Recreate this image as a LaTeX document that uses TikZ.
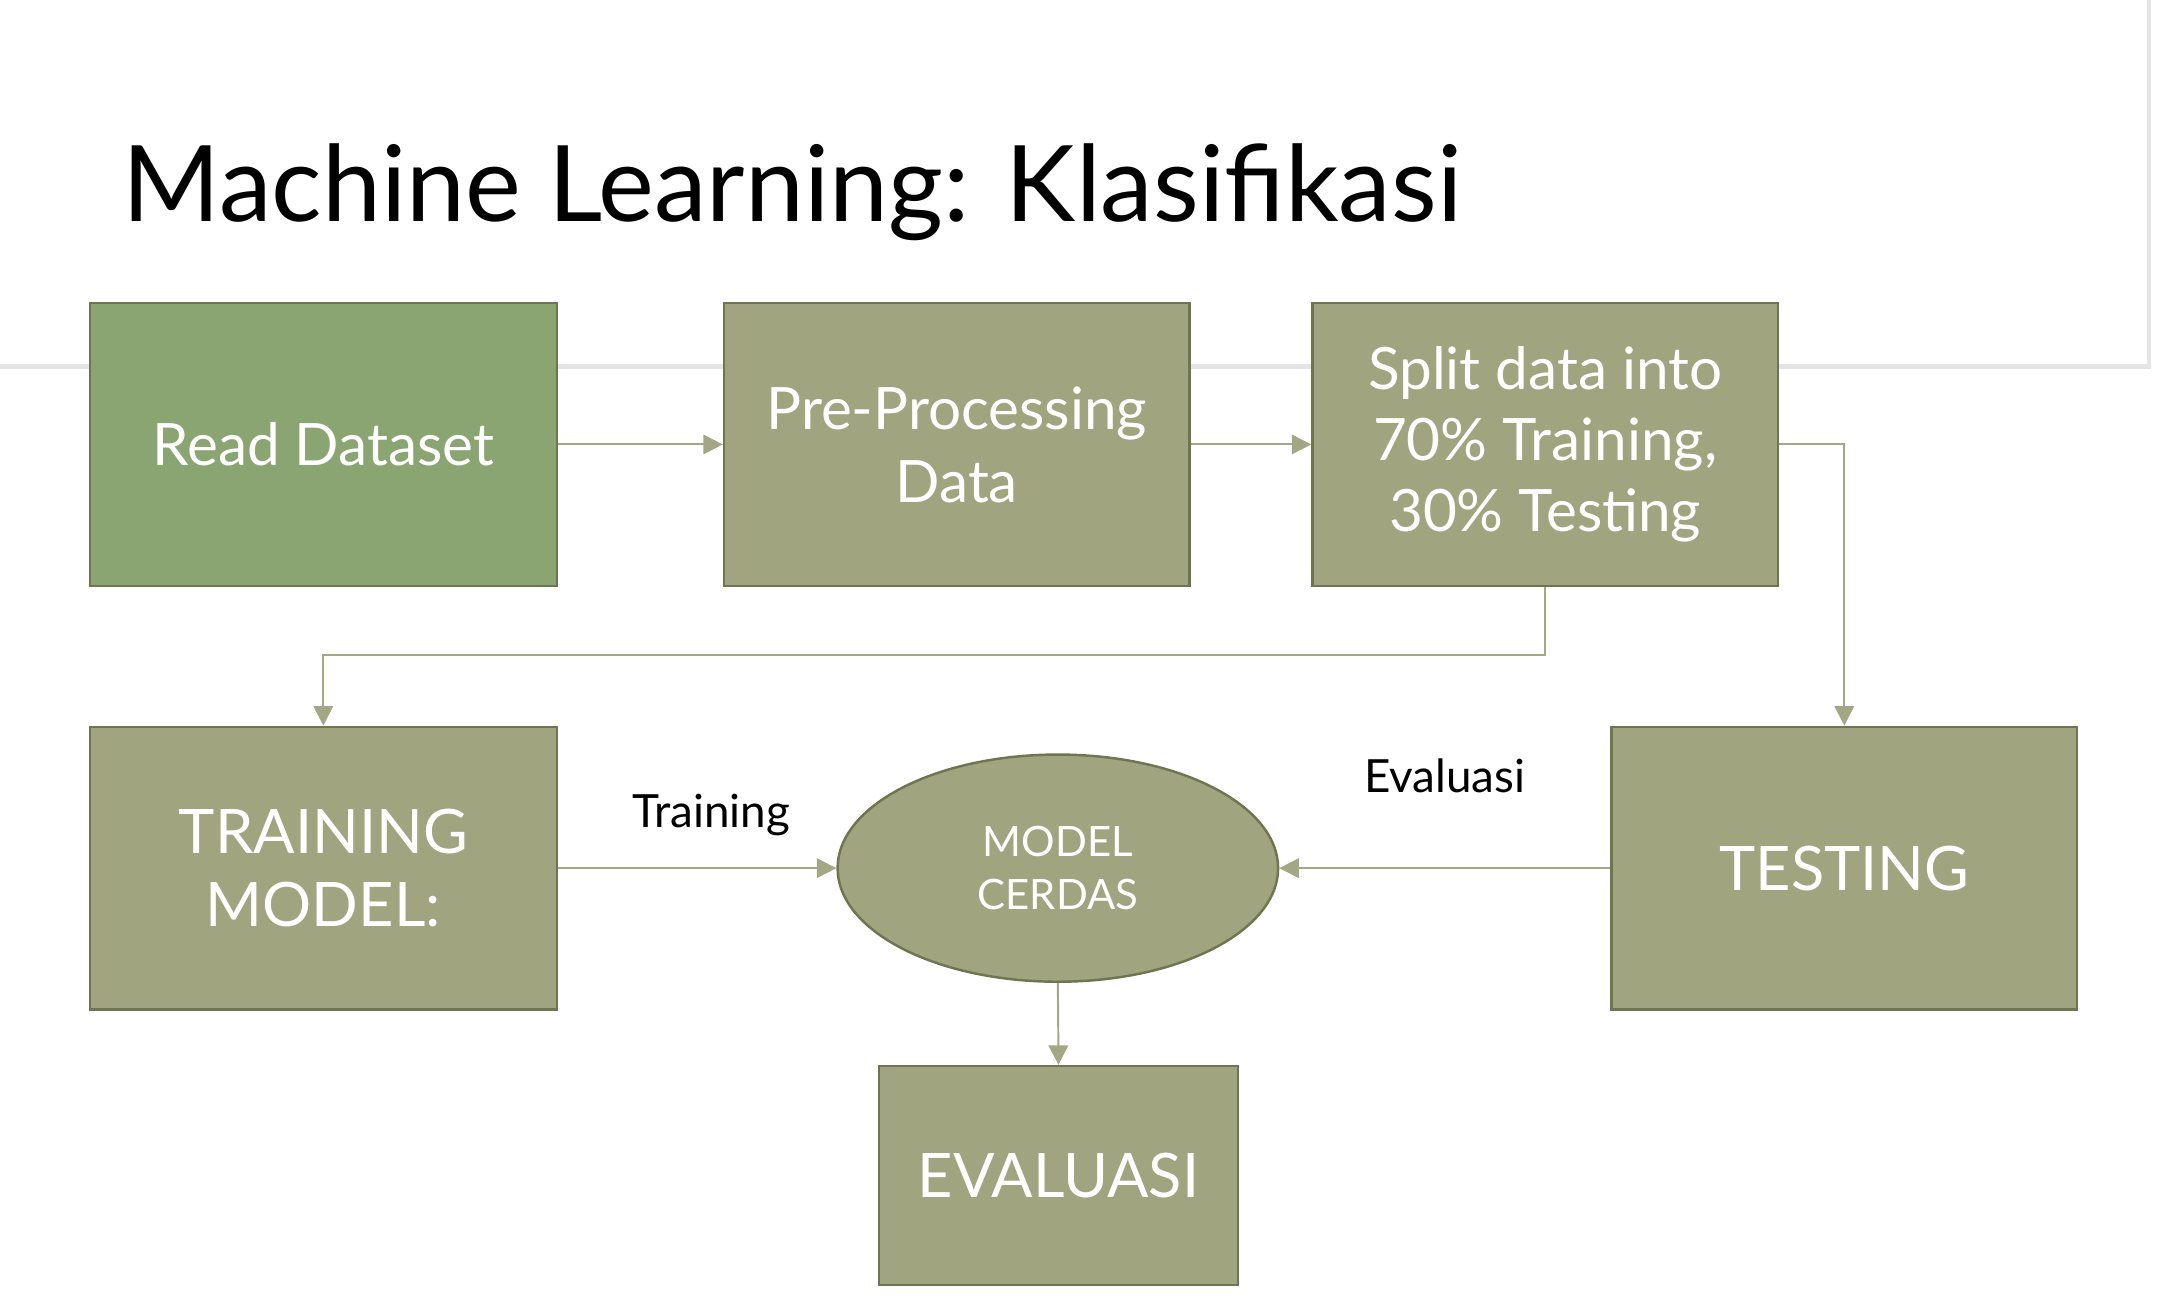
\documentclass[tikz,border=0pt]{standalone}
\usepackage{fontspec}
\setmainfont{Lato}
\usetikzlibrary{arrows.meta,shapes.geometric}
\definecolor{boxf}{HTML}{A0A47F}
\definecolor{boxg}{HTML}{8BA572}
\definecolor{boxd}{HTML}{6E7550}
\definecolor{lin}{HTML}{A3A784}
\tikzset{
 blk/.style={draw=boxd,line width=0.5pt,fill=boxf,text=white,align=center,inner sep=0pt},
 conn/.style={draw=lin,line width=0.4pt,-{Triangle[length=4pt,width=4pt]}},
 lbl/.style={font=\fontsize{9.4}{11}\selectfont,text=black}
}
\begin{document}
\begin{tikzpicture}[x=0.01cm,y=-0.01cm]
\useasboundingbox (0,0) rectangle (1560,934.6);
\fill[white] (0,0) rectangle (1560,934.6);
\draw[black!10,line width=1pt] (0,265) -- (1552,265) -- (1552,0);
\node[anchor=base west,font=\fontsize{21.7}{26}\selectfont] (title) at (76,160) {Machine Learning: Klasifikasi};
\node[blk,fill=boxg,minimum width=3.37cm,minimum height=2.04cm,font=\fontsize{12}{15}\selectfont] (rd) at (233.5,321) {Read Dataset};
\node[blk,minimum width=3.36cm,minimum height=2.04cm,font=\fontsize{12}{15}\selectfont] (pp) at (691,321) {Pre-Processing\\Data};
\node[blk,minimum width=3.36cm,minimum height=2.04cm,font=\fontsize{12}{14.6}\selectfont] (sp) at (1116,321) {Split data into\\70\% Training,\\30\% Testing};
\node[blk,minimum width=3.37cm,minimum height=2.04cm,font=\fontsize{12.6}{15}\selectfont] (tr) at (233.5,627) {TRAINING\\MODEL:};
\node[blk,ellipse,minimum width=3.18cm,minimum height=1.64cm,font=\fontsize{8.6}{11}\selectfont] (mc) at (764,627) {MODEL\\CERDAS};
\node[blk,minimum width=3.36cm,minimum height=2.04cm,font=\fontsize{12.6}{15}\selectfont] (ts) at (1332,627) {TESTING};
\node[blk,minimum width=2.59cm,minimum height=1.58cm,font=\fontsize{12.6}{15}\selectfont] (ev) at (764.5,849) {EVALUASI};
\draw[conn] (rd.east) -- (pp.west);
\draw[conn] (pp.east) -- (sp.west);
\draw[conn] (sp.south) -- (1116,473) -- (233.5,473) -- (tr.north);
\draw[conn] (sp.east) -- (1332,321) -- (ts.north);
\draw[conn] (tr.east) -- node[lbl,above=3pt,pos=0.55]{Training} (mc.west);
\draw[conn] (ts.west) -- node[lbl,above=12pt,pos=0.5]{Evaluasi} (mc.east);
\draw[conn] (mc.south) -- (ev.north);
\end{tikzpicture}
\end{document}
